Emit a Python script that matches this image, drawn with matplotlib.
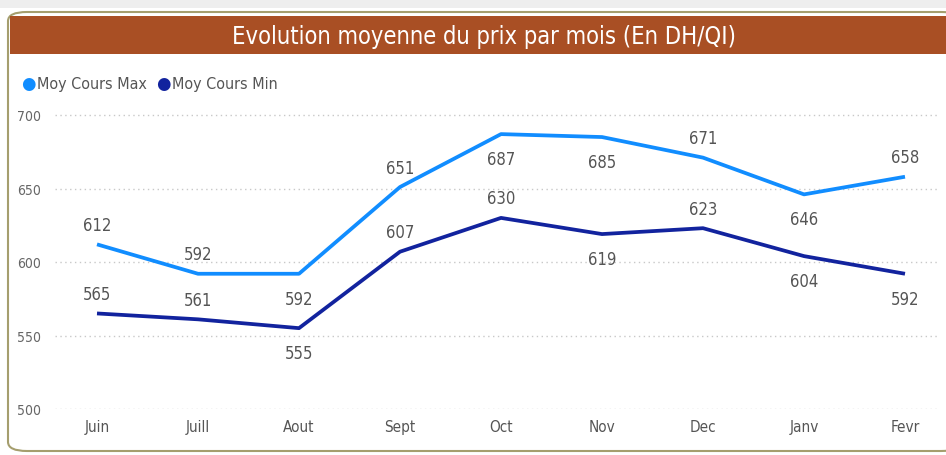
import matplotlib
matplotlib.use("Agg")
import matplotlib.pyplot as plt
from matplotlib.patches import FancyBboxPatch, Rectangle

months = ["Juin", "Juill", "Aout", "Sept", "Oct", "Nov", "Dec", "Janv", "Fevr"]
cours_max = [612, 592, 592, 651, 687, 685, 671, 646, 658]
cours_min = [565, 561, 555, 607, 630, 619, 623, 604, 592]
y_ticks = [500, 550, 600, 650, 700]

# label placement (style): +1 above, -1 below
pos_max = [1, 1, -1, 1, -1, -1, 1, -1, 1]
pos_min = [1, 1, -1, 1, 1, -1, 1, -1, -1]

C_MAX = "#118DFF"
C_MIN = "#12239E"
FONT = ["DejaVu Sans"]
STRETCH = "condensed"

W, H = 946, 456
fig = plt.figure(figsize=(W / 100, H / 100), dpi=100)
fig.patch.set_facecolor("white")

def fx(px):
    return px / W

def fy(py):
    return 1 - py / H

fig.patches.append(Rectangle((0, fy(9)), 1, 9 / H, transform=fig.transFigure,
                             facecolor="#eeeeee", edgecolor="none", zorder=0))
fig.patches.append(FancyBboxPatch((fx(8), fy(452)), fx(960 - 8), (452 - 13) / H,
                                  boxstyle="round,pad=0,rounding_size=0.02",
                                  transform=fig.transFigure, facecolor="white",
                                  edgecolor="#a59e6e", linewidth=1.5, zorder=0))
fig.patches.append(Rectangle((fx(10), fy(55)), 1, (55 - 17) / H, transform=fig.transFigure,
                             facecolor="#A94F24", edgecolor="none", zorder=1))
fig.text(fx(484), fy(37), "Evolution moyenne du prix par mois (En DH/QI)",
         color="white", fontsize=17, ha="center", va="center", family=FONT,
         fontstretch=STRETCH, zorder=3)

fig.text(fx(21), fy(84), "●", color=C_MAX, fontsize=12, ha="left", va="center", family=["DejaVu Sans"], zorder=3)
fig.text(fx(37), fy(84), "Moy Cours Max", color="#555555", fontsize=11.5, ha="left", va="center",
         family=FONT, fontstretch=STRETCH, zorder=3)
fig.text(fx(156), fy(84), "●", color=C_MIN, fontsize=12, ha="left", va="center", family=["DejaVu Sans"], zorder=3)
fig.text(fx(172), fy(84), "Moy Cours Min", color="#555555", fontsize=11.5, ha="left", va="center",
         family=FONT, fontstretch=STRETCH, zorder=3)

ax_left, ax_right, ax_top, ax_bot = 55, 940, 108, 410
ax = fig.add_axes([fx(ax_left), fy(ax_bot), (ax_right - ax_left) / W, (ax_bot - ax_top) / H])
ax.set_zorder(5)
ax.set_facecolor("none")
ppu = 101.0
x = list(range(len(months)))
ax.set_xlim(-(97 - ax_left) / ppu, 8 + (ax_right - 905) / ppu)
yscale = 294 / 200
ax.set_ylim(500, 700 + (116 - ax_top) / yscale)

ax.plot(x, cours_max, color=C_MAX, lw=2.7, solid_capstyle="butt", zorder=3)
ax.plot(x, cours_min, color=C_MIN, lw=2.7, solid_capstyle="butt", zorder=3)

for series, places in ((cours_max, pos_max), (cours_min, pos_min)):
    for xi, v, p in zip(x, series, places):
        ax.annotate(str(v), (xi, v), xytext=(0, 14 if p > 0 else -18), textcoords="offset points",
                    ha="center", va="center", fontsize=12, color="#555555", family=FONT,
                    fontstretch=STRETCH)

ax.set_yticks(y_ticks)
ax.set_yticklabels([str(t) for t in y_ticks], family=FONT, fontsize=10, color="#666666",
                   fontstretch=STRETCH)
ax.set_xticks(x)
ax.set_xticklabels(months, family=FONT, fontsize=11, color="#555555", fontstretch=STRETCH)
ax.tick_params(axis="both", length=0)
ax.tick_params(axis="y", pad=10)
ax.tick_params(axis="x", pad=7)
ax.grid(axis="y", color="#c8c8c8", linestyle=(0, (1, 2.5)), linewidth=1)
for s in ax.spines.values():
    s.set_visible(False)

fig.savefig("out.png", dpi=100)
